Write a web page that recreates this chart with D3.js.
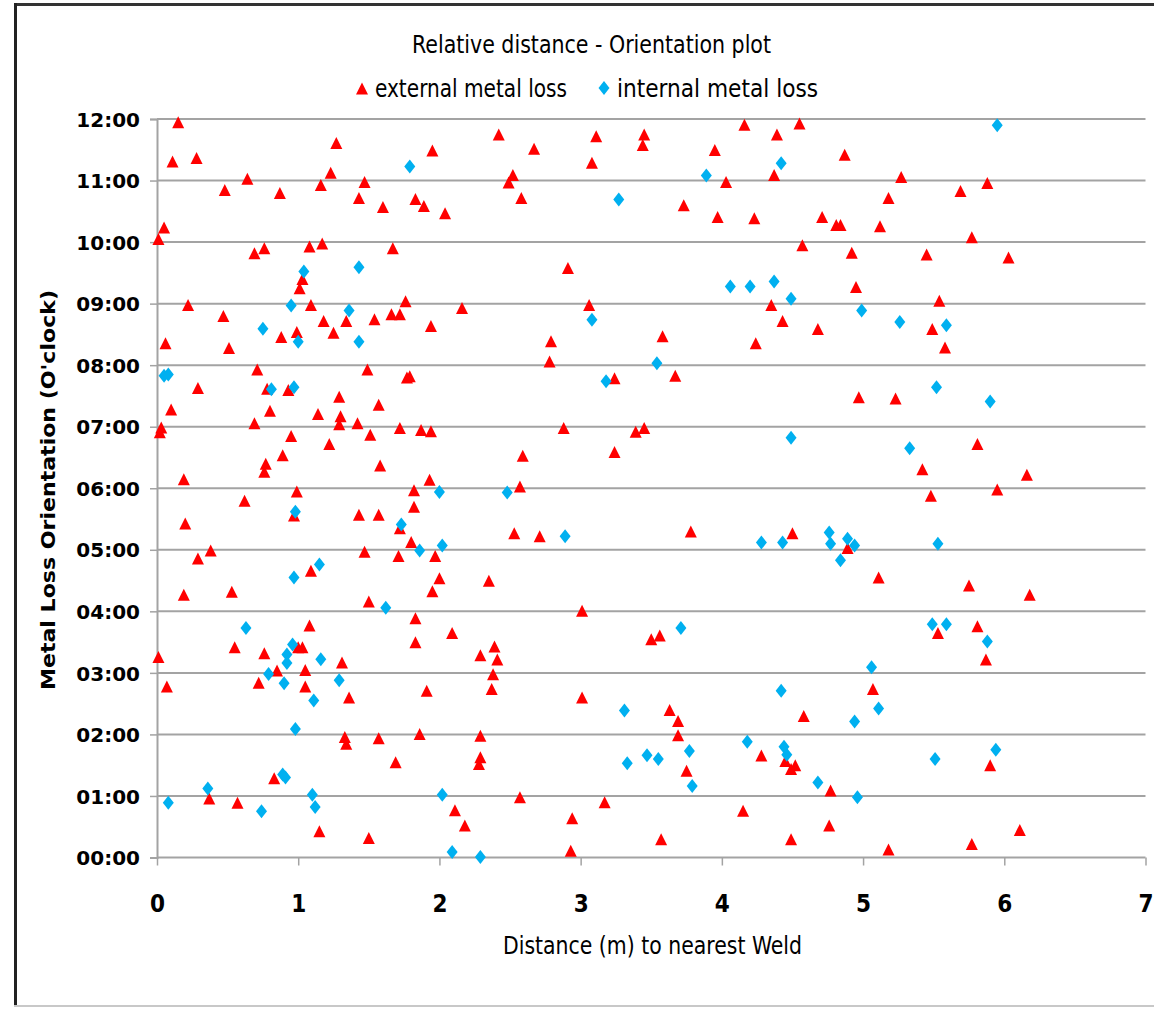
<!DOCTYPE html>
<html>
<head>
<meta charset="utf-8">
<script src="https://cdn.jsdelivr.net/npm/d3@7"></script>
<style>
  html, body { margin: 0; padding: 0; background: #fff; }
  svg { display: block; }
</style>
</head>
<body>
<div id="chart"></div>
<script>
// distance (m) to nearest weld, orientation in hours (0-12)
const externalLoss = [
  [0.15,11.94],[0.11,11.30],[0.28,11.36],[1.27,11.60],[1.95,11.48],[1.23,11.12],[0.64,11.02],[1.47,10.97],
  [0.48,10.84],[1.16,10.92],[0.87,10.79],[1.43,10.71],[1.60,10.56],[1.83,10.69],[1.89,10.58],[2.04,10.46],
  [0.05,10.23],[0.01,10.04],[0.69,9.81],[0.76,9.89],[1.08,9.92],[1.17,9.97],[1.67,9.89],[1.03,9.39],
  [1.01,9.24],[0.22,8.97],[0.47,8.79],[1.09,8.97],[1.76,9.03],[2.16,8.92],[1.18,8.71],[1.34,8.71],
  [1.54,8.74],[1.66,8.82],[1.72,8.82],[1.25,8.52],[0.99,8.53],[0.88,8.45],[1.94,8.63],[0.06,8.35],[0.51,8.27],
  [2.42,11.74],[2.67,11.51],[3.11,11.71],[3.45,11.74],[3.44,11.57],[3.08,11.28],[2.52,11.08],[2.49,10.96],
  [2.58,10.71],[3.95,11.49],[4.03,10.97],[3.73,10.59],[3.97,10.40],[4.23,10.38],[4.16,11.90],[4.39,11.74],
  [4.55,11.92],[4.37,11.08],[4.57,9.94],[2.91,9.57],[3.06,8.97],[4.35,8.97],[4.43,8.71],[2.79,8.38],
  [3.58,8.46],[4.24,8.35],[2.78,8.05],
  [4.87,11.41],[5.27,11.05],[5.18,10.71],[5.69,10.82],[5.88,10.95],[4.71,10.40],[4.81,10.27],[4.84,10.27],
  [5.12,10.25],[5.77,10.07],[4.92,9.82],[5.45,9.79],[6.03,9.74],[4.95,9.26],[5.54,9.04],[4.68,8.58],
  [5.49,8.58],[5.58,8.28],
  [0.71,7.92],[1.49,7.92],[1.77,7.79],[1.79,7.81],[0.29,7.62],[0.78,7.61],[0.93,7.59],[1.29,7.48],
  [1.57,7.35],[0.10,7.27],[0.80,7.25],[1.14,7.20],[1.30,7.16],[1.29,7.03],[0.69,7.05],[1.42,7.05],
  [0.03,6.98],[0.02,6.90],[1.72,6.97],[1.87,6.94],[1.94,6.92],[0.95,6.84],[1.51,6.86],[1.22,6.71],
  [0.89,6.53],[1.58,6.36],[0.77,6.39],[0.76,6.26],[0.19,6.14],[1.93,6.13],[1.82,5.96],[0.99,5.94],
  [0.62,5.79],[1.82,5.69],[0.20,5.42],[1.43,5.56],[1.57,5.56],[1.72,5.34],[1.80,5.12],[0.38,4.98],
  [0.29,4.85],[1.47,4.96],[1.71,4.89],[1.97,4.89],[1.09,4.65],[2.00,4.53],[1.95,4.32],[0.19,4.26],
  [0.53,4.31],[1.50,4.15],[0.97,5.55],
  [3.24,7.78],[3.67,7.82],[2.88,6.97],[3.39,6.91],[3.45,6.97],[2.59,6.52],[3.24,6.58],[2.57,6.02],
  [2.53,5.26],[2.71,5.21],[3.78,5.29],[4.50,5.26],[2.35,4.49],[3.01,4.00],
  [4.97,7.47],[5.23,7.45],[5.81,6.71],[5.42,6.30],[6.16,6.21],[5.95,5.97],[5.48,5.87],[4.89,5.02],
  [5.11,4.54],[5.75,4.41],[6.18,4.26],
  [1.08,3.76],[1.83,3.88],[2.09,3.64],[0.55,3.41],[0.76,3.31],[1.00,3.41],[1.03,3.41],[1.83,3.49],
  [2.29,3.28],[0.01,3.25],[1.31,3.16],[1.05,3.04],[0.85,3.03],[0.07,2.77],[0.72,2.83],[1.05,2.77],
  [1.36,2.59],[1.91,2.70],[1.33,1.95],[1.34,1.84],[1.57,1.93],[1.86,2.00],[1.69,1.54],[0.83,1.28],
  [0.37,0.95],[0.57,0.88],[1.15,0.42],[1.50,0.31],[2.11,0.76],[2.18,0.51],[2.29,1.97],[2.29,1.62],[2.28,1.51],
  [2.39,3.42],[2.41,3.21],[2.38,2.97],[2.37,2.73],[3.50,3.54],[3.56,3.60],[3.01,2.59],[3.63,2.39],
  [3.69,2.21],[3.69,1.98],[4.58,2.29],[4.28,1.65],[3.75,1.40],[4.45,1.56],[4.49,1.43],[4.52,1.49],
  [2.57,0.97],[3.17,0.89],[2.94,0.63],[2.93,0.10],[3.57,0.29],[4.15,0.75],[4.49,0.29],
  [5.53,3.64],[5.81,3.75],[5.87,3.21],[5.07,2.73],[5.90,1.49],[4.77,1.08],[4.76,0.51],[5.18,0.12],
  [5.77,0.21],[6.11,0.44]
];
const internalLoss = [
  [1.79,11.23],[1.04,9.52],[1.43,9.59],[0.95,8.97],[1.36,8.89],[0.75,8.59],[1.00,8.38],[1.43,8.38],
  [3.89,11.08],[4.42,11.28],[3.27,10.69],[4.06,9.28],[4.20,9.28],[4.37,9.36],[4.49,9.08],[3.08,8.74],[3.54,8.03],
  [5.95,11.90],[4.99,8.89],[5.26,8.70],[5.59,8.65],
  [0.05,7.83],[0.08,7.85],[0.81,7.61],[0.97,7.64],[2.00,5.94],[0.98,5.62],[1.73,5.41],[1.86,4.99],
  [2.02,5.07],[1.15,4.76],[0.97,4.55],[1.62,4.06],
  [3.18,7.74],[4.49,6.82],[2.48,5.93],[2.89,5.22],[4.28,5.12],[4.43,5.12],
  [5.52,7.64],[5.90,7.41],[5.33,6.65],[4.76,5.28],[4.77,5.10],[4.89,5.18],[4.94,5.07],[4.84,4.83],[5.53,5.10],
  [0.63,3.73],[0.96,3.46],[0.92,3.30],[0.92,3.16],[1.16,3.22],[0.79,2.98],[0.90,2.83],[1.29,2.88],
  [1.11,2.55],[0.98,2.09],[0.89,1.35],[0.91,1.30],[0.36,1.12],[0.08,0.89],[0.74,0.75],[1.10,1.02],
  [1.12,0.82],[2.02,1.02],[2.09,0.09],[2.29,0.01],
  [3.71,3.73],[3.31,2.39],[4.42,2.71],[4.18,1.88],[3.77,1.73],[4.44,1.80],[4.46,1.67],[3.33,1.53],
  [3.47,1.66],[3.55,1.60],[3.79,1.16],
  [5.49,3.79],[5.59,3.79],[5.88,3.51],[5.06,3.09],[5.11,2.42],[4.94,2.21],[5.51,1.60],[5.94,1.75],
  [4.68,1.22],[4.96,0.98]
];
const xTicks = [0, 1, 2, 3, 4, 5, 6, 7];
const yTickLabels = ["00:00","01:00","02:00","03:00","04:00","05:00","06:00",
                     "07:00","08:00","09:00","10:00","11:00","12:00"];

const W = 1154, H = 1011;
const svg = d3.select("#chart").append("svg")
    .attr("width", W).attr("height", H)
    .attr("viewBox", `0 0 ${W} ${H}`);

svg.append("rect").attr("width", W).attr("height", H).attr("fill", "#fff");

// chart frame
svg.append("line").attr("x1", 14).attr("x2", W).attr("y1", 4.5).attr("y2", 4.5)
    .attr("stroke", "#333").attr("stroke-width", 3);
svg.append("line").attr("x1", 15.5).attr("x2", 15.5).attr("y1", 3).attr("y2", 1006)
    .attr("stroke", "#222").attr("stroke-width", 3);
svg.append("line").attr("x1", 14).attr("x2", W).attr("y1", 1006).attr("y2", 1006)
    .attr("stroke", "#c8c8c8").attr("stroke-width", 2);

var x = d3.scaleLinear().domain([0, 7]).range([157, 1145.5]);
var y = d3.scaleLinear().domain([0, 12]).range([857.5, 119]);

const narrow = '"Liberation Sans Narrow", "DejaVu Sans Condensed", "Open Sans", sans-serif';
const boldFont = '"DejaVu Sans", Verdana, sans-serif';

// gridlines
svg.append("g")
    .selectAll("line")
    .data(d3.range(0, 13))
    .enter()
    .append("line")
    .attr("x1", x(0)).attr("x2", x(7))
    .attr("y1", d => y(d)).attr("y2", d => y(d))
    .attr("stroke", "#a3a3a3").attr("stroke-width", 2);

// y axis
var yAxis = svg.append("g")
    .attr("transform", "translate(" + x(0) + ",0)")
    .call(d3.axisLeft(y).tickValues(d3.range(0, 13)).tickSize(7).tickFormat(d => yTickLabels[d]));
yAxis.select(".domain").attr("stroke", "#a3a3a3").attr("stroke-width", 2);
yAxis.selectAll(".tick line").attr("stroke", "#a3a3a3").attr("stroke-width", 1.5);
yAxis.selectAll(".tick text")
    .attr("x", -17).attr("dy", "0.36em")
    .style("font-family", boldFont).style("font-weight", "bold")
    .style("font-size", "20px").attr("fill", "#000");

// x axis
var xAxis = svg.append("g")
    .attr("transform", "translate(0," + y(0) + ")")
    .call(d3.axisBottom(x).tickValues(xTicks).tickSize(8).tickFormat(d3.format("d")));
xAxis.select(".domain").remove();
xAxis.selectAll(".tick line").attr("stroke", "#a3a3a3").attr("stroke-width", 1.5);
xAxis.selectAll(".tick text")
    .attr("y", 37)
    .style("font-family", narrow).style("font-weight", "bold")
    .style("font-size", "24px").attr("fill", "#000");

// markers
const triPath = "M0,-6.5L6,5.5L-6,5.5Z";
const diaPath = "M0,-7L5.5,0L0,7L-5.5,0Z";

svg.append("g")
    .selectAll("path")
    .data(externalLoss)
    .enter()
    .append("path")
    .attr("d", triPath)
    .attr("transform", d => "translate(" + x(d[0]) + "," + y(d[1]) + ")")
    .attr("fill", "#ff0000");

svg.append("g")
    .selectAll("path")
    .data(internalLoss)
    .enter()
    .append("path")
    .attr("d", diaPath)
    .attr("transform", d => "translate(" + x(d[0]) + "," + y(d[1]) + ")")
    .attr("fill", "#00b0f0");

// title
svg.append("text")
    .attr("x", 412).attr("y", 53)
    .attr("textLength", 359).attr("lengthAdjust", "spacingAndGlyphs")
    .style("font-family", narrow).style("font-size", "25px").attr("fill", "#000")
    .text("Relative distance - Orientation plot");

// legend
svg.append("path").attr("d", triPath).attr("transform", "translate(362,89)").attr("fill", "#ff0000");
svg.append("text")
    .attr("x", 375).attr("y", 97)
    .attr("textLength", 192).attr("lengthAdjust", "spacingAndGlyphs")
    .style("font-family", narrow).style("font-size", "25px").attr("fill", "#000")
    .text("external metal loss");
svg.append("path").attr("d", diaPath).attr("transform", "translate(604,88)").attr("fill", "#00b0f0");
svg.append("text")
    .attr("x", 617).attr("y", 97)
    .attr("textLength", 201).attr("lengthAdjust", "spacingAndGlyphs")
    .style("font-family", narrow).style("font-size", "25px").attr("fill", "#000")
    .text("internal metal loss");

// axis titles
svg.append("text")
    .attr("x", 503).attr("y", 954)
    .attr("textLength", 299).attr("lengthAdjust", "spacingAndGlyphs")
    .style("font-family", narrow).style("font-size", "25px").attr("fill", "#000")
    .text("Distance (m) to nearest Weld");

svg.append("text")
    .attr("transform", "translate(55,690) rotate(-90)")
    .attr("textLength", 400).attr("lengthAdjust", "spacingAndGlyphs")
    .style("font-family", boldFont).style("font-weight", "bold")
    .style("font-size", "20px").attr("fill", "#000")
    .text("Metal Loss Orientation (O'clock)");
</script>
</body>
</html>
